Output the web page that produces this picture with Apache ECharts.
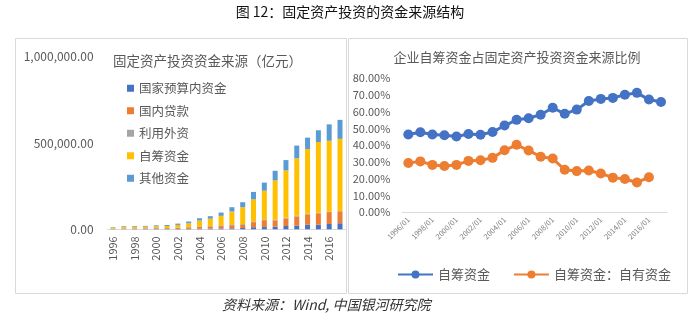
<!DOCTYPE html>
<html><head><meta charset="utf-8">
<script src="https://cdn.jsdelivr.net/npm/echarts@6/dist/echarts.min.js"></script>
<style>html,body{margin:0;padding:0;background:#fff}#c{width:700px;height:326px}</style>
</head><body><div id="c"></div>
<script>
// ---- data ----
const years = ['1996','1997','1998','1999','2000','2001','2002','2003','2004','2005','2006','2007','2008','2009','2010','2011','2012','2013','2014','2015','2016','2017'];
const months = ['1996/01','1997/01','1998/01','1999/01','2000/01','2001/01','2002/01','2003/01','2004/01','2005/01','2006/01','2007/01','2008/01','2009/01','2010/01','2011/01','2012/01','2013/01','2014/01','2015/01','2016/01','2017/01'];
const stateBudget = [400,500,900,1300,1500,1700,2300,2100,2800,3300,4700,5500,7500,12000,13000,15000,19000,22000,26000,27000,31000,35000];
const domesticLoans = [2600,3400,3700,4000,4700,4800,6300,9200,12000,13000,14000,18500,17500,29400,40000,37000,44000,51700,61000,66000,68700,69000];
const foreignCapital = [1600,2000,1800,1300,1200,1100,1400,2000,2800,3100,4300,5000,5000,4600,4700,5000,4500,4300,4000,2900,2300,2100];
const selfRaised = [6000,8600,8900,9200,10400,11700,15300,21600,33300,42100,55000,74000,98000,127600,166000,226000,273500,333000,374000,410000,411000,418000];
const otherFunds = [2400,3500,3700,4200,5200,5700,7700,10100,13100,14500,19000,25000,29000,43000,47000,56000,60000,74000,66000,68000,95000,110000];
const selfRatio = [46.4,47.8,46.5,46.0,45.3,46.7,46.3,47.9,51.8,55.2,56.2,58.2,62.4,58.8,61.3,66.4,67.7,68.3,70.2,71.3,67.3,65.8];
const ownRatio = [29.4,30.4,28.3,27.6,28.3,30.7,31.1,32.5,37.0,40.3,36.9,33.2,32.1,25.4,24.6,25.0,23.2,20.7,19.9,17.8,20.9,null];
const leftTicks = ['0.00','500,000.00','1,000,000.00'];

const gray = '#595959';
const font = '"Noto Sans CJK SC", "Noto Sans", sans-serif';
const chart = echarts.init(document.getElementById('c'), null, {renderer:'canvas'});
function fmtNum(v){ return v.toLocaleString('en-US',{minimumFractionDigits:2,maximumFractionDigits:2}); }

const barNames = ['国家预算内资金','国内贷款','利用外资','自筹资金','其他资金'];
const barData = [stateBudget, domesticLoans, foreignCapital, selfRaised, otherFunds];
const barColors = ['#4472C4','#ED7D31','#A5A5A5','#FFC000','#5B9BD5'];

const series = barNames.map((n,i)=>({
  name:n, type:'bar', stack:'s', xAxisIndex:0, yAxisIndex:0,
  data:barData[i], barWidth:5, itemStyle:{color:barColors[i]}
}));
series.push({name:'自筹资金 ', type:'line', xAxisIndex:1, yAxisIndex:1, data:selfRatio,
  symbol:'circle', symbolSize:10, showAllSymbol:true, lineStyle:{width:3,color:'#4472C4'}, itemStyle:{color:'#4472C4'}});
series.push({name:'自筹资金：自有资金', type:'line', xAxisIndex:1, yAxisIndex:1, data:ownRatio,
  symbol:'circle', symbolSize:10, showAllSymbol:true, lineStyle:{width:3,color:'#ED7D31'}, itemStyle:{color:'#ED7D31'}});

chart.setOption({
  animation:false,
  backgroundColor:'#fff',
  textStyle:{fontFamily:font},
  grid:[
    {left:107.6, right:354.6, top:56.7, bottom:96.7},
    {left:402.3, right:33, top:78.3, bottom:113.7}
  ],
  xAxis:[
    {type:'category', gridIndex:0, data:years,
     axisLine:{lineStyle:{color:'#d9d9d9'}}, axisTick:{show:false},
     axisLabel:{rotate:90, interval:1, color:gray, fontSize:11, margin:7, fontFamily:font}},
    {type:'category', gridIndex:1, data:months,
     axisLine:{lineStyle:{color:'#d9d9d9'}}, axisTick:{show:false},
     axisLabel:{rotate:45, interval:1, color:'#7f7f7f', fontSize:7.5, margin:6, fontFamily:font}}
  ],
  yAxis:[
    {type:'value', gridIndex:0, min:0, max:1000000, interval:500000,
     splitLine:{show:false}, axisLine:{show:false}, axisTick:{show:false},
     axisLabel:{color:gray, fontSize:12, margin:14, formatter:v=>leftTicks[Math.round(v/500000)]||fmtNum(v)}},
    {type:'value', gridIndex:1, min:0, max:80, interval:10,
     splitLine:{show:false}, axisLine:{show:false}, axisTick:{show:false},
     axisLabel:{color:gray, fontSize:11, margin:12, formatter:v=>v.toFixed(2)+'%'}}
  ],
  legend:[
    {data:barNames.map(n=>({name:n, icon:'rect'})), orient:'vertical', left:122, top:77,
     itemWidth:7, itemHeight:7, itemGap:10, textStyle:{color:gray, fontSize:12.5, fontFamily:font}},
    {data:['自筹资金 ','自筹资金：自有资金'], left:392, top:263, itemWidth:35, itemHeight:10, itemGap:20,
     textStyle:{color:gray, fontSize:13, fontFamily:font}}
  ],
  graphic:[
    {type:'rect', shape:{x:15.5,y:38.5,width:331,height:255}, style:{fill:'none', stroke:'#d9d9d9', lineWidth:1}, silent:true},
    {type:'rect', shape:{x:348.5,y:38.5,width:339,height:255}, style:{fill:'none', stroke:'#d9d9d9', lineWidth:1}, silent:true},
    {type:'text', left:'center', top:5, style:{text:'图 12：固定资产投资的资金来源结构', fill:'#111', font:'14px '+font}},
    {type:'text', x:113, y:54, style:{text:'固定资产投资资金来源（亿元）', fill:gray, font:'13.5px '+font}},
    {type:'text', x:517, y:51, style:{text:'企业自筹资金占固定资产投资资金来源比例', fill:gray, font:'13px '+font, textAlign:'center'}},
    {type:'text', x:222, y:298, style:{text:'资料来源：Wind, 中国银河研究院', fill:'#333', font:'italic 14px '+font}}
  ],
  series:series
});
</script></body></html>
